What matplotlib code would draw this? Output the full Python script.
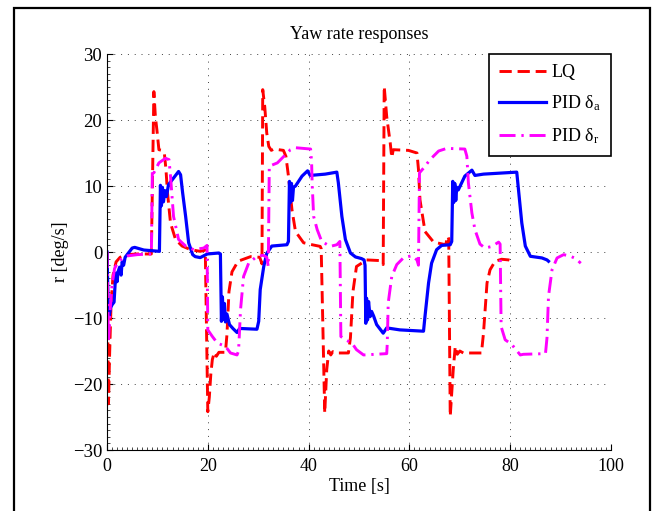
import matplotlib
matplotlib.use("Agg")
import matplotlib.pyplot as plt
from matplotlib.ticker import MultipleLocator
from matplotlib.patches import Rectangle

plt.rcParams['font.family'] = ['Liberation Serif', 'DejaVu Serif']
plt.rcParams['mathtext.fontset'] = 'custom'
plt.rcParams['mathtext.rm'] = 'Liberation Serif'
plt.rcParams['mathtext.it'] = 'Liberation Serif:italic'
plt.rcParams['font.size'] = 13

# LQ yaw rate (red dashed)
t_lq = [0.0, 0.15, 0.3, 0.5, 0.8, 1.2, 1.8, 2.6, 4.0, 6.0, 8.8, 9.05, 9.3, 9.6, 9.9,
        10.3, 10.9, 11.4, 11.7, 12.0, 12.6, 13.6, 14.9, 16.6, 18.5, 19.5, 19.75, 20.0,
        20.3, 20.6, 20.9, 21.3, 21.7, 22.2, 23.5, 23.8, 24.2, 24.8, 26.0, 28.5, 30.3,
        30.75, 30.9, 31.3, 31.7, 32.1, 32.6, 33.1, 35.0, 35.5, 36.0, 36.7, 37.4, 39.0,
        40.7, 42.3, 42.5, 43.2, 43.6, 44.0, 44.4, 44.8, 45.3, 47.9, 48.3, 48.8, 49.5,
        51.5, 54.2, 54.8, 55.0, 55.5, 56.2, 56.5, 56.8, 59.8, 61.5, 61.8, 62.1, 63.1,
        64.8, 67.2, 67.6, 67.8, 68.1, 68.7, 69.1, 69.5, 70.0, 70.7, 74.3, 74.7, 75.4,
        76.0, 77.0, 78.3, 79.7, 80.7]
r_lq = [0.0, -12, -23.0, -16, -8, -3.5, -1.5, -0.8, -0.4, -0.3, -0.3, 12, 24.3, 20.5, 18.5,
        15.5, 15.4, 14.8, 12.5, 9.0, 4.4, 1.9, 0.9, 0.35, 0.1, 0.3, -12, -24.2,
        -22, -18.5, -16.3, -15.2, -15.8, -15.2, -15.2, -12.5, -6, -3, -1.4, -0.7, -0.8,
        -1.8, 24.6, 22, 18, 16, 15.4, 15.6, 15.4, 14.5, 11.5, 6.4, 3.1, 1.4,
        1.1, 0.85, 0.5, -24.4, -17.8, -15.0, -15.6, -15.1, -15.3, -15.3, -13, -6, -2.2,
        -1.2, -1.3, -1.9, 25.1, 20.5, 16.5, 14.3, 15.5, 15.4, 15.0, 12.5, 7.9, 3.1,
        1.5, 1.1, 2.4, 2.0, -24.9, -17.8, -14.3, -15.5, -15.0, -15.3, -15.3, -12.3, -4.7,
        -2.7, -1.4, -1.1, -1.2, -1.5]

# PID delta_a (blue solid)
t_pa = [0, 0.2, 0.4, 0.7, 1.0, 1.4, 1.6, 1.8, 2.0, 2.2, 2.5, 2.8, 3.0, 3.3, 3.6, 4.0,
        5.0, 5.5, 7.3, 10.4, 10.6, 10.8, 11.0, 11.2, 11.5, 11.8, 12.2, 13.0, 14.2, 14.6,
        15.0, 15.6, 16.2, 17.0, 17.5, 18.5, 19.9, 22.2, 22.5, 22.7, 22.9, 23.1, 23.3,
        23.5, 23.8, 24.3, 25.0, 25.8, 26.3, 26.8, 29.75, 30.1, 30.4, 31.1, 31.7, 32.7,
        35.7, 36.0, 36.2, 36.4, 36.6, 36.8, 37.0, 37.4, 38.7, 39.8, 40.3, 43.3, 45.6,
        45.9, 46.6, 47.3, 48.3, 49.3, 50.5, 51.0, 51.2, 51.35, 51.5, 51.7, 51.9, 52.2,
        52.5, 52.9, 53.5, 54.8, 55.5, 58.1, 62.8, 63.1, 63.8, 64.4, 65.4, 66.4, 68.1,
        68.4, 68.6, 68.8, 69.0, 69.2, 69.4, 69.7, 71.0, 72.4, 73.0, 74.7, 81.3, 81.65,
        82.3, 83.0, 84.0, 86.3, 87.3, 87.6]
r_pa = [0, -7, -9.8, -8.5, -8.0, -7.6, -5, -3.2, -4.5, -3.0, -2.3, -3.5, -1.5, -2.0, -0.8, -0.4,
        0.6, 0.7, 0.3, 0.1, 10.1, 7.0, 9.8, 7.6, 9.3, 8.4, 10.2, 11.0, 12.2, 11.7,
        9.0, 5.4, 1.4, -0.4, -0.7, -0.85, -0.3, -0.15, -0.3, -10.5, -6.8, -10.2, -7.8,
        -10.6, -9.4, -11.0, -11.6, -12.2, -11.6, -11.6, -11.7, -10.5, -5.7, -2.2, -0.2, 0.9,
        1.1, 1.6, 10.7, 7.5, 10.4, 7.8, 9.8, 10.0, 11.5, 12.3, 11.6, 11.8, 12.1,
        10.5, 5.4, 1.9, -0.15, -0.75, -1.0, -1.2, -2.0, -10.8, -7.0, -10.3, -7.5, -9.8,
        -9.0, -9.7, -11.0, -12.3, -11.5, -11.8, -12.0, -9.7, -4.7, -1.7, 0.35, 1.0, 1.1,
        1.6, 10.7, 7.5, 10.4, 7.8, 9.8, 9.4, 11.5, 12.4, 11.6, 11.8, 12.1, 9.4,
        4.4, 0.9, -0.65, -0.9, -1.2, -1.4]

# PID delta_r (magenta dash-dot)
t_pr = [0, 0.3, 0.6, 1.0, 1.5, 2.2, 3.0, 4.0, 6.0, 8.8, 9.0, 9.3, 10.3, 11.6, 12.3, 12.6,
        13.2, 14.2, 15.6, 17.2, 19.2, 19.85, 20.0, 20.9, 21.9, 23.5, 24.5, 25.8, 26.1,
        26.5, 27.1, 28.1, 29.75, 31.0, 31.7, 32.0, 32.2, 33.8, 35.1, 36.4, 37.4, 40.4,
        40.6, 40.7, 41.0, 41.7, 42.6, 44.3, 45.6, 46.2, 46.4, 47.3, 48.6, 49.5, 50.9,
        55.5, 55.6, 55.8, 56.5, 57.5, 58.8, 60.5, 61.5, 61.8, 62.0, 62.8, 64.1, 65.8,
        67.4, 71.0, 71.4, 71.7, 72.4, 73.0, 74.0, 75.0, 76.4, 77.7, 78.0, 78.2, 79.0,
        80.3, 82.0, 82.6, 87.0, 87.3, 87.6, 88.3, 89.3, 90.6, 92.0, 93.0, 94.0]
r_pr = [0, -13.5, -9, -5, -2.5, -1.5, -1.0, -0.6, -0.4, -0.3, 12.5, 12.0, 13.5, 14.2, 14.0, 11.5,
        5.4, 1.9, 0.9, 0.35, 0.6, 1.0, -11.8, -12.8, -13.8, -14.3, -15.3, -15.6, -15.0,
        -8.7, -3.7, -1.7, -0.65, -0.5, -0.8, -2.2, 13.0, 13.5, 14.5, 15.5, 15.8, 15.6,
        13.5, 10.5, 5.4, 3.4, 1.6, 0.85, 1.1, 1.6, -12.8, -13.3, -13.8, -14.8, -15.6,
        -15.4, -14, -7.7, -3.7, -1.9, -0.9, -0.55, -1.2, -2.0, 12.0, 12.7, 14.0, 15.3,
        15.7, 15.6, 14.5, 10.5, 5.9, 3.4, 1.2, 0.6, 0.85, 1.5, 1.2, -11.3, -13.3,
        -14.0, -15.6, -15.5, -15.4, -13, -6.7, -2.7, -0.9, -0.4, -0.65, -1.0, -1.7]

fig = plt.figure(figsize=(6.58, 5.11), dpi=100)
ax = fig.add_axes([107/658, 1 - 450/511, (611 - 107)/658, (450 - 54)/511])

ax.plot(t_lq, r_lq, color='red', lw=2.1, dashes=(4.2, 2.0), label='LQ')
ax.plot(t_pa, r_pa, color='blue', lw=2.3, label='PID δ$_{\\mathrm{a}}$')
ax.plot(t_pr, r_pr, color='magenta', lw=2.1, dashes=(5.5, 2.0, 0.8, 2.0), label='PID δ$_{\\mathrm{r}}$')

ax.set_xlim(0, 100)
ax.set_ylim(-30, 30)
ax.xaxis.set_major_locator(MultipleLocator(20))
ax.yaxis.set_major_locator(MultipleLocator(10))
ax.xaxis.set_minor_locator(MultipleLocator(1))
ax.yaxis.set_minor_locator(MultipleLocator(1))
ax.tick_params(which='both', direction='in', top=False, right=False)
ax.tick_params(which='major', length=4, width=0.8)
ax.tick_params(which='minor', length=2, width=0.5)
ax.tick_params(axis='x', which='major', pad=6)
ax.tick_params(axis='y', which='major', labelsize=13.5)
ax.spines['top'].set_visible(False)
ax.spines['right'].set_visible(False)
for s in ('left', 'bottom'):
    ax.spines[s].set_linewidth(0.8)
ax.grid(True, which='major', color='0.25', linewidth=0.7, dashes=(1, 6))

ax.set_title('Yaw rate responses', fontsize=13, pad=11)
ax.set_xlabel('Time [s]', labelpad=2)
ax.set_ylabel('r [deg/s]', labelpad=3)

leg = ax.legend(loc='upper right', borderaxespad=0, fancybox=False, framealpha=1,
                edgecolor='black', handlelength=2.6, handletextpad=0.3,
                labelspacing=0.7, borderpad=0.55)
leg.get_frame().set_linewidth(1.2)

fig.patches.append(Rectangle((14/658, -0.1), (650 - 14)/658, 1.1 - 8.5/511,
                             transform=fig.transFigure, fill=False, lw=1.6, ec='black'))

fig.savefig('out.png', dpi=100)
